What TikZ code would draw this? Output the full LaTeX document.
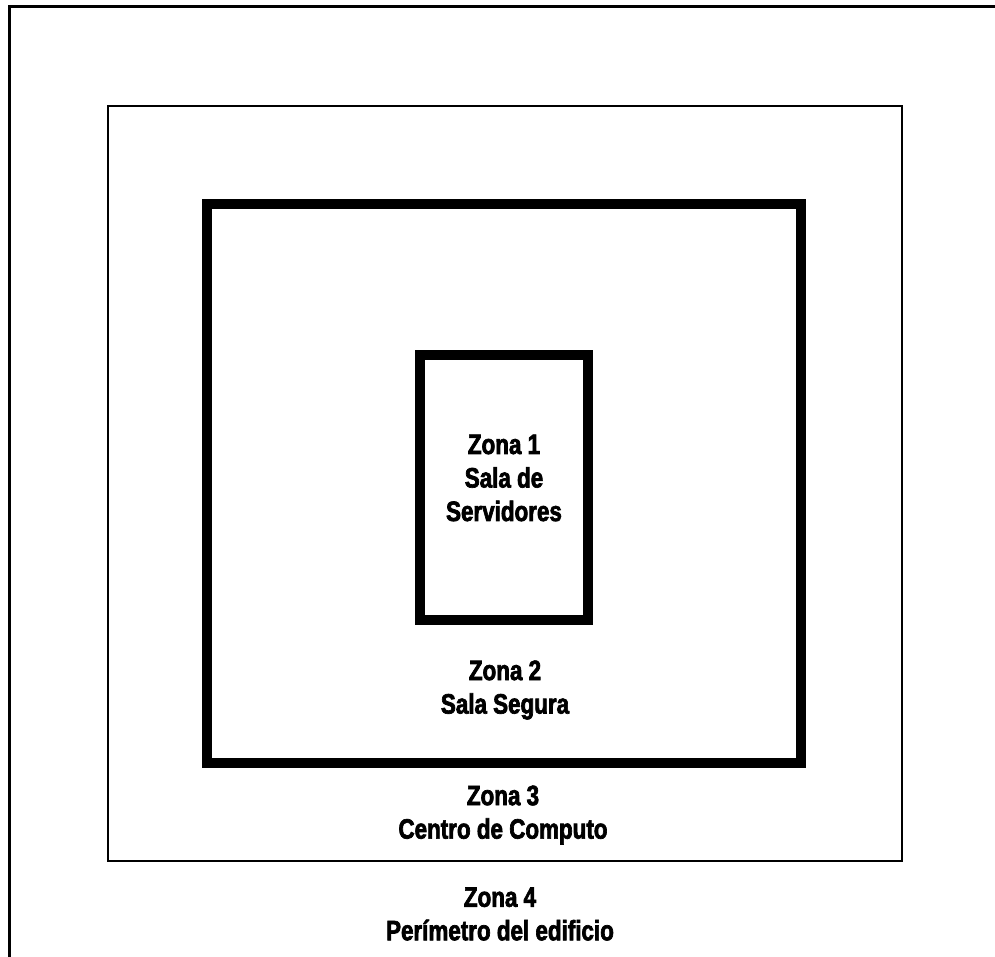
\documentclass[tikz,border=0pt]{standalone}
\usepackage{fontspec}
\newfontfamily\zonefont{Liberation Sans Bold}[FakeStretch=0.8, FakeBold=2.4]
\usepackage{tikz}
\usetikzlibrary{positioning}

\begin{document}
\begin{tikzpicture}[
    x=1pt, y=-1pt,
    wallthin/.style={draw, line width=2.6pt},
    wallthick/.style={draw, line width=10.5pt},
    zlab/.style={align=center, inner sep=0pt,
                 font=\zonefont\fontsize{28}{33.5}\selectfont}
  ]
  \useasboundingbox[fill=white] (0,0) rectangle (995,957);
  \clip (0,0) rectangle (995,957);

  % Zona 4 -- building perimeter (runs off the page)
  \draw[line width=3pt] (9,970) |- (1010,7);

  % Zona 3 -- computing centre
  \draw[wallthin] (108,106) rectangle (902,861);

  % Zona 2 -- secure room
  \draw[wallthick] (207,204) rectangle (801,763);

  % Zona 1 -- server room
  \draw[wallthick] (420,355) rectangle (588,620);

  % zone labels
  \node[zlab] (z1) at (504,478) {Zona 1\\Sala de\\Servidores};
  \node[zlab] (z2) at (505,690) {Zona 2\\Sala Segura};
  \node[zlab] (z3) at (503,815) {Zona 3\\Centro de Computo};
  \node[zlab] (z4) at (500,914) {Zona 4\\Perímetro del edificio};
\end{tikzpicture}
\end{document}
